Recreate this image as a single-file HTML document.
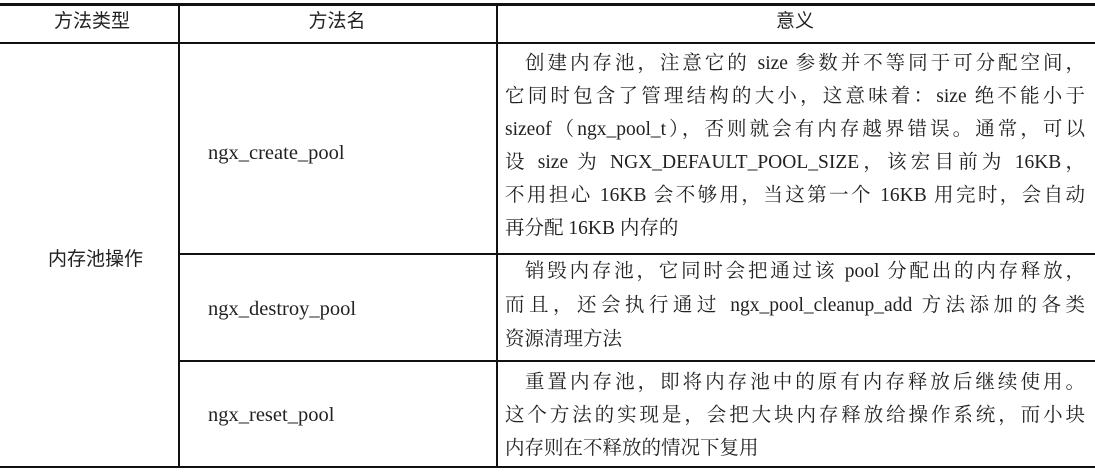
<!DOCTYPE html>
<html><head><meta charset="utf-8"><style>
body{margin:0;width:1095px;height:472px;background:#fff;position:relative;overflow:hidden;color:#222}
.h{position:absolute;background:#111}
.t{position:absolute;white-space:nowrap;line-height:24px}
.hd{font-family:"Liberation Sans","Noto Sans CJK SC",sans-serif;font-size:19px;top:10px;transform:translateX(-50%)}
.ln{position:absolute;left:505px;width:580px;line-height:24px;font-family:"Liberation Serif","Noto Serif CJK SC",serif;font-size:19.5px;white-space:nowrap;text-align:justify;text-align-last:justify;box-sizing:border-box}
.ind{padding-left:20px}
.nl{text-align-last:left}
.n{font-family:"Liberation Serif",serif;font-size:20.5px;left:208px}
</style></head><body>
<div class="h" style="left:0;top:3px;width:1095px;height:3px"></div>
<div class="h" style="left:0;top:42px;width:1095px;height:2px"></div>
<div class="h" style="left:179px;top:253px;width:916px;height:2px"></div>
<div class="h" style="left:179px;top:360px;width:916px;height:2px"></div>
<div class="h" style="left:0;top:466px;width:1095px;height:2px"></div>
<div class="h" style="left:178px;top:4px;width:2px;height:463px"></div>
<div class="h" style="left:496px;top:4px;width:2px;height:463px"></div>

<div class="t hd" style="left:92px">方法类型</div>
<div class="t hd" style="left:337px">方法名</div>
<div class="t hd" style="left:795px">意义</div>

<div class="t" style="left:48px;top:248px;font-size:19px;font-family:'Liberation Sans','Noto Sans CJK SC',sans-serif">内存池操作</div>
<div class="t n" style="top:141px">ngx_create_pool</div>
<div class="t n" style="top:297px">ngx_destroy_pool</div>
<div class="t n" style="top:403px">ngx_reset_pool</div>

<div class="ln ind" style="top:52px">创建内存池，注意它的 size 参数并不等同于可分配空间，</div>
<div class="ln" style="top:85px">它同时包含了管理结构的大小，这意味着：size 绝不能小于</div>
<div class="ln" style="top:118px">sizeof（ngx_pool_t），否则就会有内存越界错误。通常，可以</div>
<div class="ln" style="top:151px">设 size 为 NGX_DEFAULT_POOL_SIZE，该宏目前为 16KB，</div>
<div class="ln" style="top:184px">不用担心 16KB 会不够用，当这第一个 16KB 用完时，会自动</div>
<div class="ln nl" style="top:217px">再分配 16KB 内存的</div>

<div class="ln ind" style="top:260px">销毁内存池，它同时会把通过该 pool 分配出的内存释放，</div>
<div class="ln" style="top:294px">而且，还会执行通过 ngx_pool_cleanup_add 方法添加的各类</div>
<div class="ln nl" style="top:328px">资源清理方法</div>

<div class="ln ind" style="top:371px">重置内存池，即将内存池中的原有内存释放后继续使用。</div>
<div class="ln" style="top:404px">这个方法的实现是，会把大块内存释放给操作系统，而小块</div>
<div class="ln nl" style="top:437px">内存则在不释放的情况下复用</div>
</body></html>
